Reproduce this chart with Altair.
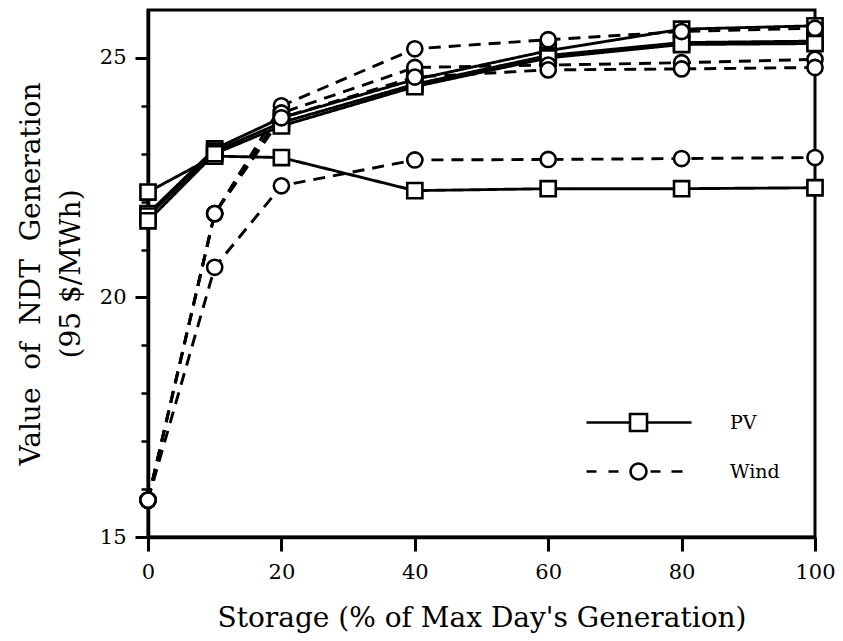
import altair as alt
import pandas as pd

storage = [0, 10, 20, 40, 60, 80, 100]

pv_series = {
    "PV low": [22.2, 22.95, 22.92, 22.23, 22.27, 22.27, 22.29],
    "PV 1": [21.75, 23.1, 23.75, 24.55, 25.15, 25.6, 25.67],
    "PV 2": [21.7, 23.05, 23.65, 24.45, 25.05, 25.32, 25.35],
    "PV 3": [21.6, 23.0, 23.58, 24.4, 25.0, 25.28, 25.3],
}
wind_series = {
    "Wind low": [15.77, 20.63, 22.33, 22.87, 22.88, 22.9, 22.92],
    "Wind 1": [15.77, 21.75, 24.0, 25.19, 25.38, 25.55, 25.62],
    "Wind 2": [15.77, 21.75, 23.85, 24.8, 24.85, 24.9, 24.97],
    "Wind 3": [15.77, 21.75, 23.75, 24.6, 24.75, 24.77, 24.8],
}

techs = ["PV", "Wind"]
major_y = [15, 20, 25]
minor_y = [16, 17, 18, 19, 21, 22, 23, 24]
x_ticks = [0, 20, 40, 60, 80, 100]

rows = []
for tech, group in (("PV", pv_series), ("Wind", wind_series)):
    for name, vals in group.items():
        for s, v in zip(storage, vals):
            rows.append({"storage": s, "value": v, "tech": tech, "series": name})
df = pd.DataFrame(rows)

FONT = "DejaVu Serif"
NB = "\u00a0"

x_enc = alt.X(
    "storage:Q",
    scale=alt.Scale(domain=[0, 100], nice=False),
    axis=alt.Axis(
        values=x_ticks, title="Storage (% of Max Day's Generation)",
        tickSize=14, tickWidth=3, domainWidth=3.5, labelPadding=10,
        labelFontSize=21, titleFontSize=28, titlePadding=22, grid=False,
        labelFlush=False,
    ),
)
y_scale = alt.Scale(domain=[15, 26], nice=False, zero=False)

lines = alt.Chart(df).mark_line(color="black", strokeWidth=2.9).encode(
    x=x_enc,
    y=alt.Y(
        "value:Q", scale=y_scale,
        axis=alt.Axis(
            values=major_y, orient="left",
            title=[f"Value{NB} of{NB} NDT{NB} Generation", "(95 $/MWh)"],
            tickSize=13, tickWidth=3, domainWidth=3.5, labelPadding=9,
            labelFontSize=21, titleFontSize=28, titleLineHeight=40,
            titlePadding=14, grid=False, labelFlush=False,
        ),
    ),
    detail="series:N",
    strokeDash=alt.StrokeDash(
        "tech:N", scale=alt.Scale(domain=techs, range=[[1, 0], [12, 8]]), legend=None
    ),
)

points = alt.Chart(df).mark_point(
    fill="white", fillOpacity=1, stroke="black", strokeWidth=2.6, size=230, opacity=1
).encode(
    x=x_enc,
    y=alt.Y("value:Q", scale=y_scale, axis=None),
    shape=alt.Shape(
        "tech:N", scale=alt.Scale(domain=techs, range=["square", "circle"]), legend=None
    ),
)

minor = alt.Chart(df).mark_point(opacity=0).encode(
    x=x_enc,
    y=alt.Y(
        "value:Q", scale=y_scale,
        axis=alt.Axis(
            values=minor_y, orient="left", tickSize=7, tickWidth=2.5,
            labels=False, domain=False, title=None, grid=False,
        ),
    ),
)

pv_path = "M-5.2,0H-0.85M0.85,0H5.3M-0.85,-0.85H0.85V0.85H-0.85Z"
wind_path = (
    "M-5.2,0H-4.2M-3.0,0H-2.0M1.2,0H2.2M3.3,0H4.4"
    "M-0.8,0A0.8,0.8 0 1 0 0.8,0A0.8,0.8 0 1 0 -0.8,0Z"
)

legend_layer = alt.Chart(df).mark_point(opacity=0).encode(
    x=x_enc,
    y=alt.Y("value:Q", scale=y_scale, axis=None),
    shape=alt.Shape(
        "tech:N",
        scale=alt.Scale(domain=techs, range=[pv_path, wind_path]),
        legend=alt.Legend(
            title=None, orient="none", legendX=479, legendY=401, padding=0,
            symbolSize=400, symbolStrokeWidth=2.6, symbolStrokeColor="black",
            symbolFillColor="white", symbolOpacity=1, labelFontSize=19,
            labelOffset=80, rowPadding=21, labelColor="black",
        ),
    ),
)

chart = (
    alt.layer(lines, points, minor, legend_layer)
    .resolve_axis(y="independent")
    .resolve_scale(shape="independent")
    .properties(
        width=667, height=527,
        autosize=alt.AutoSizeParams(type="none"),
        padding={"left": 140, "top": 2, "right": 20, "bottom": 96},
    )
    .configure(font=FONT)
    .configure_axis(
        labelFont=FONT, titleFont=FONT, labelColor="black", titleColor="black",
        domainColor="black", tickColor="black", titleFontWeight="normal",
    )
    .configure_legend(labelFont=FONT)
    .configure_view(stroke="black", strokeWidth=3)
)

chart.save("out.html", embed_options={"renderer": "svg", "actions": False})
